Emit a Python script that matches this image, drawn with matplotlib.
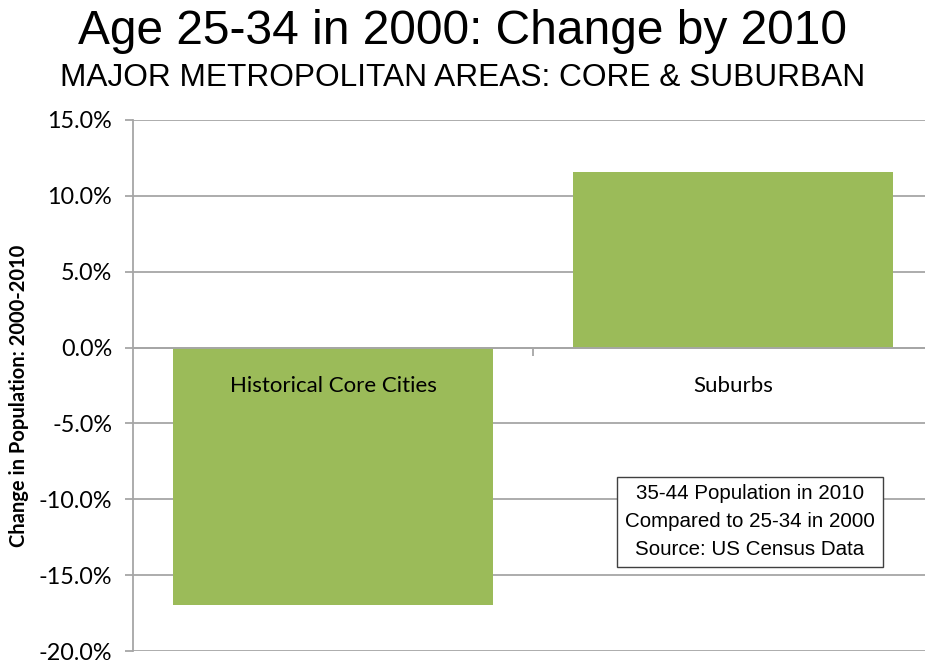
import matplotlib.pyplot as plt
from matplotlib.ticker import FuncFormatter, MultipleLocator

# Change in the 25-34 cohort (2000) as 35-44 in 2010
categories = ["Historical Core Cities", "Suburbs"]
change_pct = [-17.0, 11.6]

title = "Age 25-34 in 2000: Change by 2010"
subtitle = "MAJOR METROPOLITAN AREAS: CORE & SUBURBAN"
ylabel = "Change in Population: 2000-2010"
note = "35-44 Population in 2010\nCompared to 25-34 in 2000\nSource: US Census Data"

bar_color = "#9BBB59"
grid_color = "#a6a6a6"


def main():
    fig = plt.figure(figsize=(9.25, 6.63), dpi=100)
    ax = fig.add_axes([133 / 925, 12 / 663, 800 / 925, 531 / 663])

    x = list(range(len(categories)))
    ax.bar(x, change_pct, width=0.8, color=bar_color, zorder=3)

    ax.set_xlim(-0.5, 1.5)
    ax.set_ylim(-20, 15)
    ax.yaxis.set_major_locator(MultipleLocator(5))
    ax.yaxis.set_major_formatter(FuncFormatter(lambda v, p: f"{v:.1f}%"))
    ax.grid(axis="y", color=grid_color, linewidth=1.3, zorder=0)

    # category axis sits on the zero line
    ax.spines["bottom"].set_position(("data", 0))
    ax.spines["bottom"].set_color(grid_color)
    ax.spines["bottom"].set_linewidth(1.3)
    ax.spines["bottom"].set_zorder(4)
    ax.spines["left"].set_color(grid_color)
    ax.spines["left"].set_linewidth(1.3)
    ax.spines["top"].set_visible(False)
    ax.spines["right"].set_visible(False)

    ax.set_xticks([0.5])
    ax.set_xticklabels([])
    ax.tick_params(axis="x", length=6, color=grid_color, width=1.3)

    # category names drawn just below the zero line, on top of the bars
    for xi, name in zip(x, categories):
        ax.annotate(name, (xi, 0), xytext=(0, -28), textcoords="offset points",
                    ha="center", va="center", fontsize=16, family="Lato",
                    zorder=6)

    ax.tick_params(axis="y", length=6, color=grid_color, width=1.3, pad=9,
                   labelsize=16.8)
    for lab in ax.get_yticklabels():
        lab.set_family("Lato")

    ax.set_ylabel(ylabel, fontsize=14.5, fontweight="bold", family="Lato")
    ax.yaxis.set_label_coords(-0.13, 0.48)

    ax.text(0.771, 0.243, note, transform=ax.transAxes, ha="center", va="center",
            fontsize=14.8, family="Liberation Sans", linespacing=1.6,
            bbox=dict(boxstyle="square,pad=0.38", facecolor="white",
                      edgecolor="#404040", linewidth=1), zorder=5)

    fig.text(0.5, 0.953, title, ha="center", va="center", fontsize=34.5,
             family="Liberation Sans")
    fig.text(0.5, 0.882, subtitle, ha="center", va="center", fontsize=22.8,
             family="Liberation Sans")

    fig.savefig("out.png", dpi=100)


if __name__ == "__main__":
    main()
